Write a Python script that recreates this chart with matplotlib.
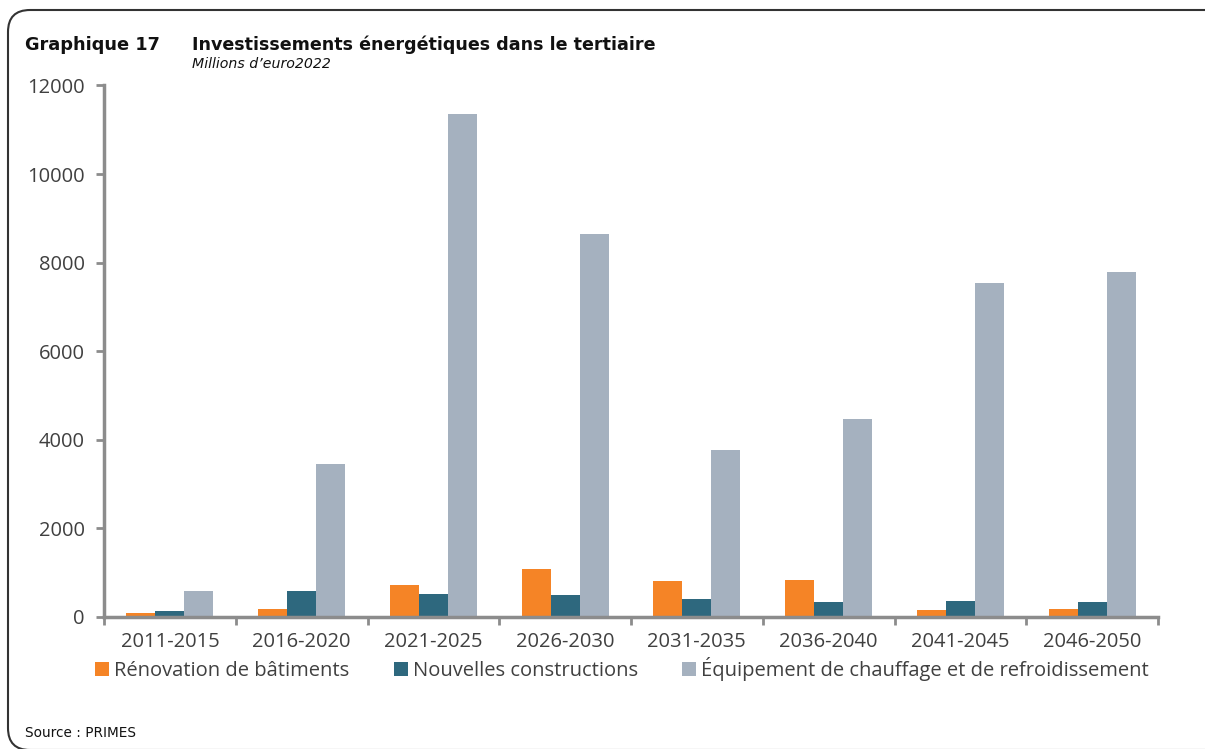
import matplotlib
matplotlib.use("Agg")
import matplotlib.pyplot as plt
import numpy as np
from matplotlib.patches import FancyBboxPatch
from matplotlib.transforms import IdentityTransform

categories = ["2011-2015", "2016-2020", "2021-2025", "2026-2030",
              "2031-2035", "2036-2040", "2041-2045", "2046-2050"]
renovation = [100, 180, 720, 1080, 820, 830, 160, 175]
nouvelles = [130, 580, 520, 500, 400, 335, 355, 340]
equipement = [585, 3460, 11350, 8650, 3780, 4480, 7540, 7790]
series_names = ["Rénovation de bâtiments", "Nouvelles constructions",
                "Équipement de chauffage et de refroidissement"]
colors = ["#F58426", "#2E687E", "#A5B1BF"]
yticks = [0, 2000, 4000, 6000, 8000, 10000, 12000]

W, H = 1205, 749
fig = plt.figure(figsize=(W / 100, H / 100), dpi=100)
font = "Open Sans"
axis_col = "#8C8C8C"
text_col = "#404040"

ax = fig.add_axes([104 / W, 1 - 617 / H, (1158 - 104) / W, (617 - 85.4) / H])
x = np.arange(len(categories))
bw = 0.22
for i, (vals, name, c) in enumerate(zip([renovation, nouvelles, equipement], series_names, colors)):
    ax.bar(x + (i - 1) * bw, vals, width=bw, color=c, label=name, zorder=2)

ax.set_xlim(-0.5, len(categories) - 0.5)
ax.set_ylim(0, 12000)
ax.set_yticks(yticks)
ax.set_yticklabels([str(v) for v in yticks], fontfamily=font, fontsize=14.5, color=text_col)
ax.set_xticks(x)
ax.set_xticklabels(categories, fontfamily=font, fontsize=14.5, color=text_col)
ax.set_xticks(np.arange(-0.5, len(categories), 1.0), minor=True)
ax.tick_params(axis="x", which="major", length=0, pad=11)
ax.tick_params(axis="x", which="minor", length=6, width=2, color=axis_col, direction="out")
ax.tick_params(axis="y", length=6, width=2, color=axis_col, direction="out", pad=8)
for s in ["top", "right"]:
    ax.spines[s].set_visible(False)
for s in ["left", "bottom"]:
    ax.spines[s].set_color(axis_col)
    ax.spines[s].set_linewidth(2.5)

handles, labels = ax.get_legend_handles_labels()
fig.legend(handles, labels, loc="center", bbox_to_anchor=(622 / W, 1 - 669 / H),
           ncol=3, frameon=False, prop={"family": font, "size": 14.5},
           handlelength=0.7, handleheight=0.7, handletextpad=0.25, columnspacing=2.2,
           labelcolor=text_col)

fig.text(25 / W, 1 - 45 / H, "Graphique 17", fontfamily="DejaVu Sans", fontweight="bold",
         fontsize=12.8, va="center", ha="left", color="#111111")
fig.text(192 / W, 1 - 45 / H, "Investissements énergétiques dans le tertiaire",
         fontfamily="DejaVu Sans", fontweight="bold", fontsize=12.6, va="center", ha="left",
         color="#111111")
fig.text(192 / W, 1 - 64 / H, "Millions d\u2019euro2022", fontfamily="DejaVu Sans",
         fontstyle="italic", fontsize=10.2, va="center", ha="left", color="#111111")
fig.text(25 / W, 1 - 733 / H, "Source : PRIMES", fontfamily="DejaVu Sans",
         fontsize=9.8, va="center", ha="left", color="#111111")

frame = FancyBboxPatch((8, -1), 1300, 740, boxstyle="round,pad=0,rounding_size=22",
                       transform=IdentityTransform(), fill=False, edgecolor="#333333",
                       linewidth=1.5)
fig.add_artist(frame)

fig.savefig("out.png", dpi=100)
